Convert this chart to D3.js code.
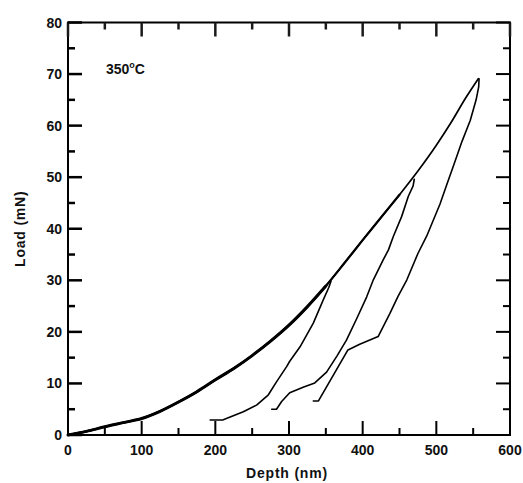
<!DOCTYPE html>
<html>
<head>
<meta charset="utf-8">
<script src="https://cdn.jsdelivr.net/npm/d3@7"></script>
<style>
  html, body { margin: 0; padding: 0; background: #fff; }
  svg { display: block; }
  text { font-family: "Liberation Sans", Arial, sans-serif; font-weight: bold; fill: #111; }
</style>
</head>
<body>
<svg id="chart" width="523" height="483"></svg>
<script>
// ---- Data (depth nm, load mN) ----
const loadingDepth = [0, 25, 50, 75, 100, 125, 150, 175, 200, 225, 250, 275, 300, 325, 350, 375, 400, 425, 450, 475, 500, 520, 540, 557];
const loadingLoad  = [0, 0.7, 1.6, 2.4, 3.2, 4.6, 6.4, 8.4, 10.7, 12.9, 15.4, 18.2, 21.3, 24.9, 28.9, 33.3, 37.8, 42.2, 46.6, 51.2, 56.2, 60.6, 65.4, 69.1];

const unload1Depth = [357, 354, 346.5, 333, 315, 301, 297, 283, 272, 256, 238, 215, 210, 193];
const unload1Load  = [29.8, 28.6, 26.2, 21.7, 17.1, 14.3, 13.3, 10.3, 7.8, 5.8, 4.5, 3.2, 2.9, 2.9];

const unload2Depth = [470, 468.5, 462, 453, 441.6, 435, 428, 414.5, 405.5, 392, 378, 365, 351, 335, 320, 301, 290, 283, 276.5];
const unload2Load  = [49.6, 48.3, 46.3, 42.4, 38.5, 35.9, 34.0, 30.1, 26.8, 22.6, 18.4, 15.3, 12.2, 10.1, 9.3, 8.2, 6.5, 5.0, 5.0];

const unload3Depth = [558, 557.5, 554, 546, 535, 524, 514, 505, 487, 475, 460, 448, 437, 421, 396, 380, 340, 333];
const unload3Load  = [69.1, 67.5, 65.0, 61.0, 57.0, 52.5, 48.5, 44.8, 38.6, 35.2, 30.1, 26.9, 23.6, 19.1, 17.6, 16.5, 6.6, 6.6];

const xTicks = [0, 100, 200, 300, 400, 500, 600];
const yTicks = [0, 10, 20, 30, 40, 50, 60, 70, 80];
const xMinorTicks = [50, 150, 250, 350, 450, 550];
const yMinorTicks = [5, 15, 25, 35, 45, 55, 65, 75];

const xTitle = "Depth (nm)";
const yTitle = "Load (mN)";

// ---- Layout ----
const svg = d3.select("#chart");
const L = 68, R = 510, T = 22.5, B = 435;
const x = d3.scaleLinear().domain([0, 600]).range([L, R]);
const y = d3.scaleLinear().domain([0, 80]).range([B, T]);

const zip = (a, b) => a.map((d, i) => [d, b[i]]);
const line = d3.line().x(d => x(d[0])).y(d => y(d[1]));
const smooth = d3.line().x(d => x(d[0])).y(d => y(d[1])).curve(d3.curveMonotoneX);

// curves
const loading = zip(loadingDepth, loadingLoad);
const g = svg.append("g").attr("fill", "none").attr("stroke", "#000")
  .attr("stroke-linejoin", "round").attr("stroke-linecap", "round");
g.append("path").attr("d", smooth(loading)).attr("stroke-width", 1.7);
g.append("path").attr("d", smooth(loading.filter(d => d[0] <= 470))).attr("stroke-width", 2.2);
g.append("path").attr("d", smooth(loading.filter(d => d[0] <= 357))).attr("stroke-width", 3);
[[unload1Depth, unload1Load], [unload2Depth, unload2Load], [unload3Depth, unload3Load]].forEach(([dx, dy]) => {
  g.append("path").attr("d", line(zip(dx, dy))).attr("stroke-width", 1.6);
});

// frame
svg.append("rect").attr("x", L).attr("y", T).attr("width", R - L).attr("height", B - T)
  .attr("fill", "none").attr("stroke", "#000").attr("stroke-width", 2);

// ticks, inward on all four sides
const major = 14, minor = 7;
const allX = xTicks.map(v => [v, major]).concat(xMinorTicks.map(v => [v, minor]));
const allY = yTicks.map(v => [v, major]).concat(yMinorTicks.map(v => [v, minor]));

// bottom: lines
svg.append("g").selectAll("line").data(allX).join("line")
  .attr("x1", d => x(d[0])).attr("x2", d => x(d[0])).attr("y1", B).attr("y2", d => B - d[1])
  .attr("stroke", "#000").attr("stroke-width", 2);
// top: lines, dark grey
svg.append("g").selectAll("line").data(allX).join("line")
  .attr("x1", d => x(d[0])).attr("x2", d => x(d[0])).attr("y1", T).attr("y2", d => T + d[1])
  .attr("stroke", "#1a1a1a").attr("stroke-width", 2.5);
// left: rects
svg.append("g").selectAll("rect").data(allY).join("rect")
  .attr("x", L).attr("y", d => y(d[0]) - 1.25).attr("width", d => d[1]).attr("height", 2.5)
  .attr("fill", "black");
// right: lines
svg.append("g").selectAll("line").data(allY).join("line")
  .attr("x1", R).attr("x2", d => R - d[1]).attr("y1", d => y(d[0])).attr("y2", d => y(d[0]))
  .attr("stroke", "#000").attr("stroke-width", 2);

// tick labels
svg.append("g").selectAll("text").data(xTicks).join("text")
  .attr("x", d => x(d)).attr("y", 455).attr("text-anchor", "middle")
  .attr("font-size", 14).text(d => d);
svg.append("g").selectAll("text").data(yTicks).join("text")
  .attr("x", 62).attr("y", d => y(d) + 5).attr("text-anchor", "end")
  .attr("font-size", 14).text(d => d);

// titles
svg.append("text").attr("x", (L + R) / 2 - 2).attr("y", 478).attr("text-anchor", "middle")
  .attr("font-size", 14).attr("letter-spacing", 0.8).text(xTitle);
svg.append("text").attr("transform", `translate(25,${(T + B) / 2}) rotate(-90)`)
  .attr("text-anchor", "middle").attr("font-size", 14).attr("letter-spacing", 0.8).text(yTitle);

// annotation
const ann = svg.append("text").attr("x", 106).attr("y", 74).attr("font-size", 14);
ann.append("tspan").text("350");
ann.append("tspan").attr("font-size", 9).attr("dy", -6).text("o");
ann.append("tspan").attr("dy", 6).text("C");
</script>
</body>
</html>
